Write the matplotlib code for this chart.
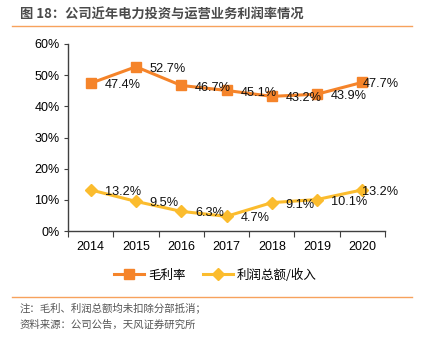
import matplotlib
matplotlib.use("Agg")
import matplotlib.pyplot as plt
from matplotlib.lines import Line2D

plt.rcParams['font.family'] = ['Liberation Sans', 'Noto Sans CJK SC', 'DejaVu Sans']

years = ['2014', '2015', '2016', '2017', '2018', '2019', '2020']
gross_margin = [47.4, 52.7, 46.7, 45.1, 43.2, 43.9, 47.7]
profit_ratio = [13.2, 9.5, 6.3, 4.7, 9.1, 10.1, 13.2]
series_names = ['毛利率', '利润总额/收入']
y_ticks = [0, 10, 20, 30, 40, 50, 60]

title = '图 18：公司近年电力投资与运营业务利润率情况'
notes = ['注：毛利、利润总额均未扣除分部抵消；', '资料来源：公司公告，天风证券研究所']

orange = '#F5842A'
yellow = '#FBBC2E'
gray = '#404040'
cjk = ['Noto Sans CJK SC', 'DejaVu Sans']

fig = plt.figure(figsize=(4.22, 3.40), dpi=100)
ax = fig.add_axes([68 / 422, 1 - 231 / 340, 317 / 422, 187 / 340])

x = list(range(len(years)))
ax.plot(x, gross_margin, color=orange, lw=2.2, marker='s', ms=7, zorder=3)
ax.plot(x, profit_ratio, color=yellow, lw=2.2, marker='D', ms=6.5, zorder=3)

# value labels sit to the right of each point; the last one hugs the point
for series in (gross_margin, profit_ratio):
    for i, v in enumerate(series):
        dx = 0 if i == len(years) - 1 else 10
        ax.annotate(f'{v:.1f}%', (i, v), xytext=(dx, -1.5), textcoords='offset points',
                    ha='left', va='center', fontsize=9.2, color='#111111', zorder=4)

ax.set_xlim(-0.5, len(years) - 0.5)
ax.set_ylim(0, 60)
ax.set_yticks(y_ticks)
ax.set_yticklabels([f'{t}%' for t in y_ticks], fontsize=9)
ax.set_xticks([i - 0.5 for i in range(len(years) + 1)])
ax.set_xticklabels([])
ax.set_xticks(x, minor=True)
ax.set_xticklabels(years, minor=True, fontsize=9)
ax.tick_params(axis='x', which='major', length=4, width=0.8, color=gray)
ax.tick_params(axis='x', which='minor', length=0, pad=7)
ax.tick_params(axis='y', length=3, width=0.8, color=gray, pad=3)
for side in ['top', 'right']:
    ax.spines[side].set_visible(False)
for side in ['left', 'bottom']:
    ax.spines[side].set_color(gray)
    ax.spines[side].set_linewidth(1.0)

handles = [Line2D([], [], color=orange, lw=2.2, marker='s', ms=7),
           Line2D([], [], color=yellow, lw=2.2, marker='D', ms=6.5)]
fig.legend(handles, series_names, loc='center', bbox_to_anchor=(0.51, 1 - 275 / 340),
           ncol=2, frameon=False, handlelength=2.4, columnspacing=1.4,
           handletextpad=0.3, prop={'family': cjk, 'size': 9})

fig.text(20 / 422, 1 - 15 / 340, title, fontsize=9.5, fontweight='bold', color='#4a4a4a',
         family=cjk, va='center', ha='left')
fig.add_artist(Line2D([12 / 422, 412 / 422], [1 - 26 / 340] * 2, color='#F7A25C', lw=1.0))
fig.add_artist(Line2D([12 / 422, 412 / 422], [1 - 297 / 340] * 2, color='#F7A25C', lw=1.0))
fig.text(20 / 422, 1 - 308 / 340, notes[0], fontsize=7.5, color='#555555',
         family=cjk, va='center', ha='left')
fig.text(20 / 422, 1 - 325 / 340, notes[1], fontsize=7.5, color='#555555',
         family=cjk, va='center', ha='left')

fig.savefig('out.png', dpi=100)
